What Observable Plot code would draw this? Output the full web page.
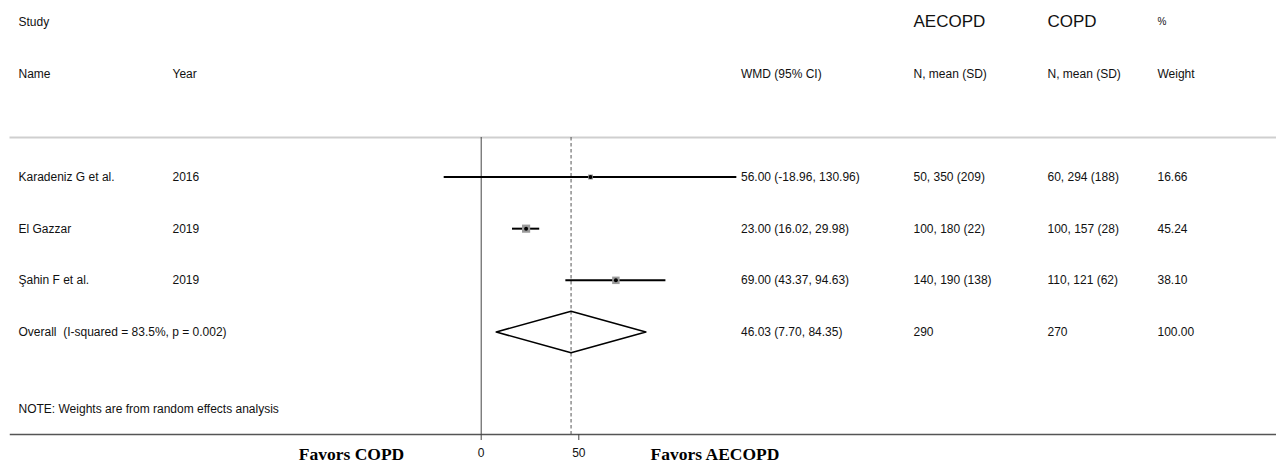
<!DOCTYPE html>
<html><head><meta charset="utf-8">
<script src="https://cdn.jsdelivr.net/npm/d3@7"></script>
<script src="https://cdn.jsdelivr.net/npm/@observablehq/plot@0.6"></script>
<style>body{margin:0;background:#fff}</style>
</head><body><div id="chart"></div>
<script>
// ---- data ----
const names = ["Karadeniz G et al.", "El Gazzar", "Şahin F et al."];
const years = ["2016", "2019", "2019"];
const wmd = [56.00, 23.00, 69.00];
const ciLow = [-18.96, 16.02, 43.37];
const ciHigh = [130.96, 29.98, 94.63];
const aecopdCells = ["50, 350 (209)", "100, 180 (22)", "140, 190 (138)"];
const copdCells = ["60, 294 (188)", "100, 157 (28)", "110, 121 (62)"];
const weights = [16.66, 45.24, 38.10];
const overallLabel = "Overall  (I-squared = 83.5%, p = 0.002)";
const overallEst = 46.03, overallLow = 7.70, overallHigh = 84.35;
const overallA = "290", overallC = "270", overallW = "100.00";
const noteText = "NOTE: Weights are from random effects analysis";
const xTicks = [0, 50];
const favorsLeft = "Favors COPD", favorsRight = "Favors AECOPD";

// ---- layout ----
const W = 1276, H = 463, mL = 10, mT = 137, mB = 29;
const colName = 18, colYear = 172, colWMD = 740.5, colA = 913, colC = 1047, colW = 1157;
const sans = "'Liberation Sans', Arial, Helvetica, sans-serif";
const serif = "'Liberation Serif', 'Times New Roman', serif";
const fs = 12;

const studies = names.map((n, i) => ({
  row: i, name: n, year: years[i], est: wmd[i], lo: ciLow[i], hi: ciHigh[i],
  label: `${wmd[i].toFixed(2)} (${ciLow[i].toFixed(2)}, ${ciHigh[i].toFixed(2)})`,
  a: aecopdCells[i], c: copdCells[i], w: weights[i], wLabel: weights[i].toFixed(2)
}));
const oRow = names.length;
const overallRow = [{row: oRow, name: overallLabel,
  label: `${overallEst.toFixed(2)} (${overallLow.toFixed(2)}, ${overallHigh.toFixed(2)})`,
  a: overallA, c: overallC, wLabel: overallW}];
const dh = 0.4;
const diamond = [
  {x: overallLow, y: oRow}, {x: overallEst, y: oRow - dh},
  {x: overallHigh, y: oRow}, {x: overallEst, y: oRow + dh}
];

function col(data, text, px, opts = {}) {
  return Plot.text(data, {y: "row", text, frameAnchor: "left", dx: px - mL,
    textAnchor: "start", lineAnchor: "middle", fontSize: fs, fill: "#111", ...opts});
}
const hdr1 = [{row: -3}], hdr2 = [{row: -2}], noteRow = [{row: 4.5}];

const chart = Plot.plot({
  width: W, height: H,
  marginTop: mT, marginBottom: mB, marginLeft: mL, marginRight: 0,
  style: {fontFamily: sans, background: "#fff"},
  x: {domain: [0, 50], range: [480.7, 578.3]},
  y: {domain: [0, 3], range: [176.5, 331.5], axis: null},
  marks: [
    Plot.frame({anchor: "top", stroke: "#cfcfcf", strokeWidth: 2}),
    Plot.frame({anchor: "bottom", stroke: "#555", strokeWidth: 1.5}),
    Plot.ruleX([0], {stroke: "#444", strokeWidth: 1}),
    Plot.ruleX([overallEst], {stroke: "#555", strokeWidth: 1, strokeDasharray: "3.5,2.5"}),
    Plot.axisX({ticks: xTicks, tickSize: 6, tickPadding: 8, fontSize: 12, stroke: "#444", color: "#111"}),
    // studies
    Plot.ruleY(studies, {y: "row", x1: "lo", x2: "hi", stroke: "#000", strokeWidth: 2}),
    Plot.dot(studies, {x: "est", y: "row", r: "w", symbol: "square", fill: "#9a9a9a", stroke: null}),
    Plot.dot(studies, {x: "est", y: "row", r: 2, fill: "#000"}),
    Plot.line(diamond, {x: "x", y: "y", curve: "linear-closed", stroke: "#000", strokeWidth: 1.6, fill: "none"}),
    // header
    col(hdr1, () => "Study", colName),
    col(hdr1, () => "AECOPD", colA, {fontSize: 17}),
    col(hdr1, () => "COPD", colC, {fontSize: 17}),
    col(hdr1, () => "%", colW, {fontSize: 10}),
    col(hdr2, () => "Name", colName),
    col(hdr2, () => "Year", colYear),
    col(hdr2, () => "WMD (95% CI)", colWMD),
    col(hdr2, () => "N, mean (SD)", colA),
    col(hdr2, () => "N, mean (SD)", colC),
    col(hdr2, () => "Weight", colW),
    // rows
    col(studies, "name", colName),
    col(studies, "year", colYear),
    col(studies, "label", colWMD),
    col(studies, "a", colA),
    col(studies, "c", colC),
    col(studies, "wLabel", colW),
    col(overallRow, "name", colName),
    col(overallRow, "label", colWMD),
    col(overallRow, "a", colA),
    col(overallRow, "c", colC),
    col(overallRow, "wLabel", colW),
    col(noteRow, () => noteText, colName),
    // favors labels
    Plot.text([favorsLeft], {text: d => d, frameAnchor: "bottom-left", dx: 351 - mL, dy: 20,
      textAnchor: "middle", lineAnchor: "middle", fontFamily: serif, fontWeight: "bold", fontSize: 17.5, fill: "#000"}),
    Plot.text([favorsRight], {text: d => d, frameAnchor: "bottom-left", dx: 714.5 - mL, dy: 20,
      textAnchor: "middle", lineAnchor: "middle", fontFamily: serif, fontWeight: "bold", fontSize: 17.5, fill: "#000"})
  ],
  r: {type: "sqrt", domain: [0, d3.max(weights)], range: [0, 4.6]}
});
document.getElementById("chart").appendChild(chart);
</script>
</body></html>
